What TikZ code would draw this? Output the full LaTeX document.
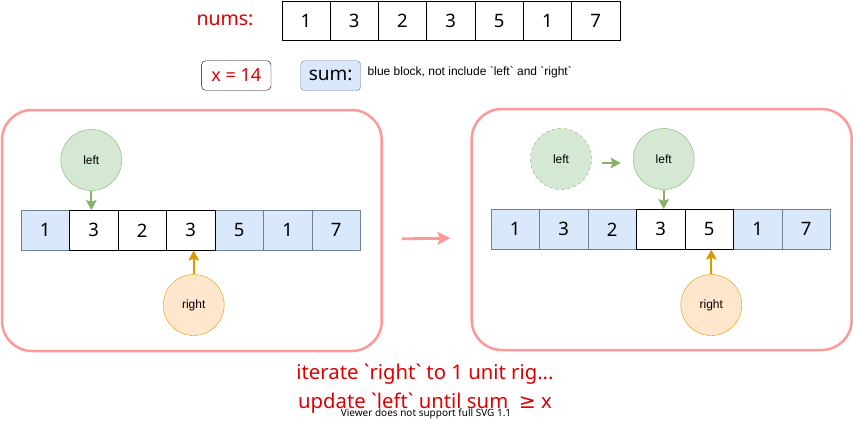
\documentclass[tikz,border=0pt]{standalone}
\usepackage{fontspec}
\setmainfont{Noto Sans}
\newfontfamily\labelFont{Liberation Sans}
\newfontfamily\symFont{DejaVu Sans}
\usetikzlibrary{positioning,arrows.meta}

\definecolor{panelPink}{HTML}{FF9999}
\definecolor{textRed}{HTML}{DD0000}
\definecolor{blueFill}{HTML}{DAE8FC}
\definecolor{blueLine}{HTML}{6F7F96}
\definecolor{greenFill}{HTML}{D5E8D4}
\definecolor{greenLine}{HTML}{82B366}
\definecolor{orangeFill}{HTML}{FFE6CC}
\definecolor{orangeLine}{HTML}{D79B00}

\tikzset{
  cellBase/.style={rectangle, minimum width=48.5pt, minimum height=40pt, inner sep=0pt,
    font=\fontsize{18.5}{22}\selectfont},
  whiteCell/.style={cellBase, draw=black, fill=white},
  blueCell/.style={cellBase, draw=blueLine, fill=blueFill},
  panelBox/.style={draw=panelPink, line width=2.5pt, rounded corners=30pt, inner sep=0pt},
  leftBall/.style={circle, minimum size=61pt, inner sep=0pt, draw=greenLine, fill=greenFill,
    font=\labelFont\fontsize{12}{14}\selectfont},
  rightBall/.style={circle, minimum size=61pt, inner sep=0pt, draw=orangeLine, fill=orangeFill,
    font=\labelFont\fontsize{12}{14}\selectfont},
  greenArrow/.style={draw=greenLine, fill=greenLine, line width=1.8pt,
    -{Stealth[length=10pt,width=10.5pt,inset=1.8pt]}},
  orangeArrow/.style={draw=orangeLine, fill=orangeLine, line width=1.8pt,
    -{Stealth[length=10pt,width=10.5pt,inset=1.8pt]}},
  pinkArrow/.style={draw=panelPink, fill=panelPink, line width=2.8pt,
    -{Stealth[length=13pt,width=13pt,inset=2.5pt]}},
}

\begin{document}
\begin{tikzpicture}[x=1pt, y=-1pt]
  % --- PARAMETRY ---
  \pgfmathsetmacro{\cellW}{48.5}     % szerokosc komorki
  \pgfmathsetmacro{\numsX}{281.7}    % lewa krawedz tablicy nums
  \pgfmathsetmacro{\aX}{21}          % lewa krawedz tablicy (lewy panel)
  \pgfmathsetmacro{\bX}{491}         % lewa krawedz tablicy (prawy panel)
  \useasboundingbox (0,0) rectangle (853,421);

  % Tablica nums
  \node[text=textRed, font=\fontsize{19.5}{22}\selectfont] (numsLabel) at (225,20) {nums:};
  \foreach \i in {1,...,7} {
    \pgfmathtruncatemacro{\v}{{1,3,2,3,5,1,7}[\i-1]}
    \node[whiteCell, minimum width=48.3pt, minimum height=39pt] (n\i) at ({\numsX+(\i-0.5)*48.3}, 20.5) {\v};
  }

  % x = 14 oraz sum
  \node[draw=black, rounded corners=4pt, minimum width=69.3pt, minimum height=29.5pt, inner sep=0pt,
    text=textRed, font=\fontsize{18}{22}\selectfont] (xBox) at (236.3,75.5) {x = 14};
  \node[draw=blueLine, fill=blueFill, rounded corners=4pt, minimum width=60pt, minimum height=30pt,
    inner sep=0pt, font=\fontsize{19}{22}\selectfont] (sumBox) at (330.7,75.7) {sum:};
  \node[anchor=west, inner sep=0pt, font=\labelFont\fontsize{12}{14}\selectfont] (sumNote) at (367.5,72.5)
    {blue block, not include \textasciigrave left\textasciigrave\ and \textasciigrave right\textasciigrave};

  % Lewy panel
  \node[panelBox, minimum width=379.7pt, minimum height=241pt] (leftPanel) at (191.85,230.5) {};
  \foreach \i in {1,5,6,7} {
    \pgfmathtruncatemacro{\v}{{1,3,2,3,5,1,7}[\i-1]}
    \node[blueCell] (a\i) at ({\aX+(\i-0.5)*\cellW}, 230.3) {\v};
  }
  \foreach \i in {2,3,4} {
    \pgfmathtruncatemacro{\v}{{1,3,2,3,5,1,7}[\i-1]}
    \node[whiteCell] (a\i) at ({\aX+(\i-0.5)*\cellW}, 230.3) {\v};
  }
  \node[leftBall] (leftA) at (91.3,160) {left};
  \node[rightBall] (rightA) at (193.7,305) {right};
  \draw[greenArrow] (leftA.south) -- (leftA.south |- a2.north);
  \draw[orangeArrow] (rightA.north) -- (rightA.north |- a4.south);

  % Prawy panel
  \node[panelBox, minimum width=380pt, minimum height=241pt] (rightPanel) at (661.7,229.5) {};
  \foreach \i in {1,2,3,6,7} {
    \pgfmathtruncatemacro{\v}{{1,3,2,3,5,1,7}[\i-1]}
    \node[blueCell] (b\i) at ({\bX+(\i-0.5)*\cellW}, 229.3) {\v};
  }
  \foreach \i in {4,5} {
    \pgfmathtruncatemacro{\v}{{1,3,2,3,5,1,7}[\i-1]}
    \node[whiteCell] (b\i) at ({\bX+(\i-0.5)*\cellW}, 229.3) {\v};
  }
  \node[leftBall, dashed, dash pattern=on 3pt off 3pt] (ghostLeft) at (561,159) {left};
  \node[leftBall] (leftB) at (663.7,159) {left};
  \node[rightBall] (rightB) at (711.3,305) {right};
  \draw[greenArrow, shorten <=10.7pt, shorten >=12.3pt] ([yshift=-4pt]ghostLeft.east) -- ([yshift=-4pt]leftB.west);
  \draw[greenArrow] (leftB.south) -- (leftB.south |- b4.north);
  \draw[orangeArrow] (rightB.north) -- (rightB.north |- b5.south);

  % Strzalka miedzy panelami
  \draw[pinkArrow, shorten <=19pt, shorten >=20pt] ([yshift=-8.5pt]leftPanel.east) -- ([yshift=-8.5pt]rightPanel.west);

  % Opis na dole
  \node[text=textRed, align=center, font=\fontsize{20.3}{28.7}\selectfont] (caption) at (425,389)
    {iterate \textasciigrave right\textasciigrave\ to 1 unit rig...\\
     update \textasciigrave left\textasciigrave\ until sum \ {\symFont ≥} x};
  \node[font=\fontsize{10}{12}\selectfont] (svgNote) at (426,414) {Viewer does not support full SVG 1.1};
\end{tikzpicture}
\end{document}
